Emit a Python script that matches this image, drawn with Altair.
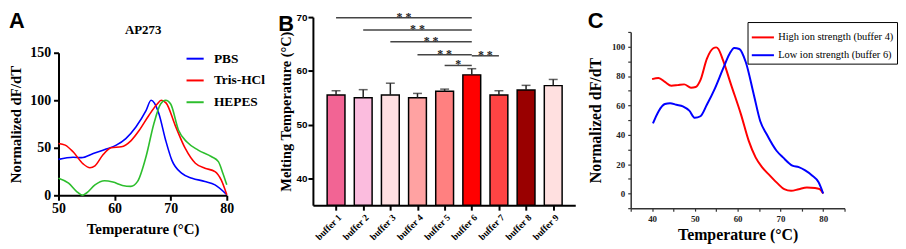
import altair as alt
import pandas as pd

SERIF = "Liberation Serif"
SANS = "Liberation Sans"

# ---------------- Panel A : AP273 dF/dT curves ----------------
a_series = ["PBS", "Tris-HCl", "HEPES"]
a_colors = ["#0000FF", "#FF0000", "#2DBE2D"]

a_pbs_t = [50, 52.6, 54.1, 56.2, 58.5, 60.3, 62.0, 63.8, 65.6, 66.5, 67.1, 67.9, 69.1, 70.2, 72.0, 73.8, 76.1, 77.9, 80.0]
a_pbs_v = [37.8, 40, 39.6, 44, 48.6, 52.8, 59.7, 71.9, 89, 100, 97, 85.8, 58, 37, 23, 18, 14.6, 11, 0.7]

a_tris_t = [50, 51.2, 52.6, 54.4, 55.6, 56.5, 57.9, 59.4, 61.2, 62.9, 64.4, 66.1, 67.6, 68.3, 69.2, 70.8, 72.6, 74.4, 76.1, 77.9, 79.0, 80.0]
a_tris_v = [54.5, 52.8, 45.8, 33, 29, 31, 42.4, 50, 51, 57.3, 68.4, 84, 96, 100, 97, 73.6, 49.3, 33.7, 28.5, 25, 16.3, 0.7]

a_hepes_t = [50, 51.8, 53.2, 54.3, 55, 56.5, 58.2, 59.7, 61.4, 62.9, 64.1, 65.6, 67.0, 68.2, 69.1, 70.0, 71.4, 72.9, 74.9, 77.3, 78.5, 79.3, 80.0]
a_hepes_v = [18, 12.8, 4.2, 0, 2.4, 11, 15.3, 13.9, 10.4, 9.4, 14.6, 40.6, 75.3, 96, 100, 96, 68.4, 56, 47.6, 40.6, 35.4, 23.3, 11]

# ---------------- Panel B : melting temperatures ----------------
b_buffers = ["buffer 1", "buffer 2", "buffer 3", "buffer 4", "buffer 5",
             "buffer 6", "buffer 7", "buffer 8", "buffer 9"]
b_tm = [55.5, 55.0, 55.5, 55.0, 56.2, 59.25, 55.5, 56.45, 57.25]
b_err = [0.8, 1.5, 2.2, 0.8, 0.4, 1.15, 0.8, 0.85, 1.15]
b_colors = ["#F26494", "#FBBCDE", "#FFE0E2", "#FFA2A2", "#FF8080",
            "#FF0000", "#FF4444", "#990000", "#FFE0E0"]
B_MIN, B_MAX = 35, 70

sig_start = [1, 2, 3, 4, 5, 6]
sig_end = [6, 6, 6, 6, 6, 7]
sig_y = [69.9, 67.6, 65.4, 63.0, 61.0, 62.8]
sig_label = ["* *", "* *", "* *", "* *", "*", "* *"]

# ---------------- Panel C : ion strength ----------------
c_series = ["High ion strength (buffer 4)", "Low ion strength (buffer 6)"]
c_colors = ["#FF0000", "#0000FF"]

c_high_t = [40, 41.5, 43, 44.5, 46, 47.5, 49.1, 50.2, 51.3, 52.8, 54.3, 55.0, 55.5, 56.6, 58.5, 60.8, 62.6,
            64.2, 65.7, 67.5, 69.4, 70.9, 72.5, 74.3, 76.2, 78.1, 79.2, 80]
c_high_v = [77.9, 78.7, 76, 73.4, 73.8, 74.3, 72, 72.5, 77.2, 91.7, 98.9, 99.5, 98.4, 90.6, 73.8, 53.7, 35.8,
            24.6, 17.9, 12.3, 6.7, 2.9, 1.8, 2.9, 4, 3.8, 2.9, 0]

c_low_t = [40.2, 41.5, 43, 44.2, 45.7, 47.2, 48.7, 50, 51.3, 52.8, 54.7, 56.6, 58.1, 59.2, 60.4, 61.9, 63.8,
           65.3, 66.8, 69.1, 70.6, 72.8, 74.3, 75.8, 77.4, 78.9, 80]
c_low_v = [47.7, 55.9, 60.9, 61.5, 60.4, 59.3, 56.4, 51.5, 52.6, 60.4, 71.6, 85, 95, 99.1, 98.4, 89.5, 67.1,
           49.2, 40.3, 29.1, 24.6, 19, 17.9, 15.7, 12.3, 7.8, 0]


def letter(txt, offset):
    return alt.TitleParams(txt, anchor="start", font=SANS, fontSize=22, fontWeight="bold",
                           color="black", offset=offset)


def spacer(h):
    return alt.Chart(pd.DataFrame({"z": [0]})).mark_point(opacity=0, size=1).properties(width=1, height=h)


def cell(panel, h):
    return alt.vconcat(spacer(h), panel, spacing=0).resolve_scale(color="independent").resolve_legend(
        color="independent")


# ======================= build panel A =======================
dfA = pd.concat([
    pd.DataFrame({"t": a_pbs_t, "v": a_pbs_v, "s": "PBS"}),
    pd.DataFrame({"t": a_tris_t, "v": a_tris_v, "s": "Tris-HCl"}),
    pd.DataFrame({"t": a_hepes_t, "v": a_hepes_v, "s": "HEPES"}),
])

axA = dict(labelFont=SERIF, labelFontSize=14, labelFontWeight="bold", labelColor="black",
           titleFont=SERIF, titleFontSize=15, titleFontWeight="bold", titleColor="black",
           domainColor="black", domainWidth=2, tickColor="black", tickWidth=2, tickSize=5,
           grid=False, labelFlush=False)

xA_scale = alt.Scale(domain=[50, 80], nice=False, zero=False)
yA_scale = alt.Scale(domain=[0, 150], nice=False)

linesA = alt.Chart(dfA).mark_line(strokeWidth=1.6, interpolate="monotone").encode(
    x=alt.X("t:Q", scale=xA_scale,
            axis=alt.Axis(values=[50, 60, 70, 80], title="Temperature (°C)", labelPadding=1, titlePadding=7, **axA)),
    y=alt.Y("v:Q", scale=yA_scale,
            axis=alt.Axis(values=[0, 50, 100, 150], title="Normalized dF/dT", labelPadding=3, titlePadding=6, **axA)),
    color=alt.Color("s:N", scale=alt.Scale(domain=a_series, range=a_colors),
                    legend=alt.Legend(title=None, orient="none", legendX=128, legendY=-4,
                                      labelFont=SERIF, labelFontSize=13.5, labelFontWeight="bold",
                                      labelColor="black", symbolType="stroke", symbolStrokeWidth=2,
                                      symbolSize=300, rowPadding=5, labelOffset=9)),
)
topA = alt.Chart(dfA).mark_line(opacity=0).encode(
    x=alt.X("t:Q", scale=xA_scale,
            axis=alt.Axis(orient="top", title="AP273", labels=False, ticks=False, domain=False,
                          titleFont=SERIF, titleFontSize=13, titleFontWeight="bold", titleColor="black",
                          titlePadding=16)),
    y=alt.Y("v:Q", scale=yA_scale),
)
panelA = alt.layer(linesA, topA).resolve_axis(x="independent").properties(
    width=170, height=144, title=letter("A", -9))

# ======================= build panel B =======================
dfB = pd.DataFrame({"idx": list(range(1, len(b_buffers) + 1)), "buffer": b_buffers,
                    "tm": b_tm, "err": b_err})
dfB["hi"] = dfB["tm"] + dfB["err"]
dfS = pd.DataFrame({"start": sig_start, "end": sig_end, "y": sig_y, "label": sig_label})
dfS["mid"] = (dfS["start"] + dfS["end"]) / 2

label_expr = "[" + ",".join("'%s'" % b for b in b_buffers) + "][datum.value - 1]"
xB_scale = alt.Scale(domain=[0.33, 9.63], nice=False, zero=False)
yB_scale = alt.Scale(domain=[B_MIN, B_MAX], nice=False, zero=False)

xB_axis = alt.Axis(values=list(range(1, 10)), labelExpr=label_expr, labelAngle=-45,
                   labelOverlap=False, labelBound=False,
                   labelFont=SERIF, labelFontSize=9.5, labelFontWeight="bold", labelColor="black",
                   domainColor="black", domainWidth=2, tickColor="black", tickWidth=2, tickSize=5,
                   grid=False, title=None, labelPadding=2)
yB_axis = alt.Axis(values=[40, 50, 60, 70], title="Melting Temperature (°C)",
                   labelFont=SANS, labelFontSize=10, labelFontWeight="bold", labelColor="black",
                   titleFont=SERIF, titleFontSize=14.5, titleFontWeight="bold", titleColor="black",
                   domainColor="black", domainWidth=2, tickColor="black", tickWidth=2, tickSize=5,
                   grid=False, labelPadding=1, titlePadding=3)

barsB = alt.Chart(dfB).mark_bar(size=18, stroke="black", strokeWidth=1.5).encode(
    x=alt.X("idx:Q", scale=xB_scale, axis=xB_axis),
    y=alt.Y("tm:Q", scale=yB_scale, axis=yB_axis),
    y2=alt.datum(B_MIN),
    color=alt.Color("buffer:N", scale=alt.Scale(domain=b_buffers, range=b_colors), legend=None),
)
errB = alt.Chart(dfB).mark_rule(color="#222222", strokeWidth=1.5).encode(
    x=alt.X("idx:Q", scale=xB_scale, axis=xB_axis), y=alt.Y("tm:Q", scale=yB_scale, axis=yB_axis), y2="hi:Q")
capB = alt.Chart(dfB).mark_tick(orient="horizontal", size=9, thickness=1.5, color="#222222").encode(
    x=alt.X("idx:Q", scale=xB_scale, axis=xB_axis), y=alt.Y("hi:Q", scale=yB_scale, axis=yB_axis))
sigB = alt.Chart(dfS).mark_rule(color="#444444", strokeWidth=1.5).encode(
    x=alt.X("start:Q", scale=xB_scale, axis=xB_axis), x2="end:Q",
    y=alt.Y("y:Q", scale=yB_scale, axis=yB_axis))
starB = alt.Chart(dfS).mark_text(font=SERIF, fontSize=12, fontWeight="bold", color="#222222",
                                 baseline="middle", dy=-1).encode(
    x=alt.X("mid:Q", scale=xB_scale, axis=xB_axis), y=alt.Y("y:Q", scale=yB_scale, axis=yB_axis),
    text="label:N")

panelB = alt.layer(barsB, errB, capB, sigB, starB).properties(
    width=265, height=190, title=letter("B", -26))

# ======================= build panel C =======================
dfC = pd.concat([
    pd.DataFrame({"t": c_high_t, "v": c_high_v, "s": c_series[0]}),
    pd.DataFrame({"t": c_low_t, "v": c_low_v, "s": c_series[1]}),
])
axC = dict(labelFont=SERIF, labelFontSize=9, labelFontWeight="bold", labelColor="#222222",
           titleFont=SERIF, titleFontSize=16, titleFontWeight="bold", titleColor="black",
           domainColor="#333333", domainWidth=1.5, tickColor="#333333", tickWidth=1.2, tickSize=3,
           grid=False, labelFlush=False)
linesC = alt.Chart(dfC).mark_line(strokeWidth=2, interpolate="monotone").encode(
    x=alt.X("t:Q", scale=alt.Scale(domain=[35, 85], nice=False, zero=False),
            axis=alt.Axis(values=list(range(35, 90, 5)),
                          labelExpr="datum.value % 10 === 0 && datum.value >= 40 && datum.value <= 80 ? datum.label : ''",
                          title="Temperature (°C)", labelPadding=3, titlePadding=4, **axC)),
    y=alt.Y("v:Q", scale=alt.Scale(domain=[-10, 110], nice=False, zero=False),
            axis=alt.Axis(values=list(range(-10, 120, 10)),
                          labelExpr="datum.value % 20 === 0 && datum.value >= 0 && datum.value <= 100 ? datum.label : ''",
                          title="Normalized dF/dT", labelPadding=3, titlePadding=8, **axC)),
    color=alt.Color("s:N", scale=alt.Scale(domain=c_series, range=c_colors),
                    legend=alt.Legend(title=None, orient="none", legendX=118, legendY=-10,
                                      strokeColor="black", fillColor="white", padding=3,
                                      labelFont=SERIF, labelFontSize=10.5, labelColor="black",
                                      symbolType="stroke", symbolStrokeWidth=2, symbolSize=500,
                                      rowPadding=0, labelOffset=3)),
)
panelC = linesC.properties(width=216, height=178, title=letter("C", -12))

chart = alt.concat(
    cell(panelA, 1), cell(panelB, 1), cell(panelC, 1),
    columns=3, spacing=12, align="none", padding=0,
).resolve_scale(color="independent").resolve_legend(color="independent").configure_view(
    stroke=None
)

chart.save("out.html", embed_options={"renderer": "svg", "actions": False})
